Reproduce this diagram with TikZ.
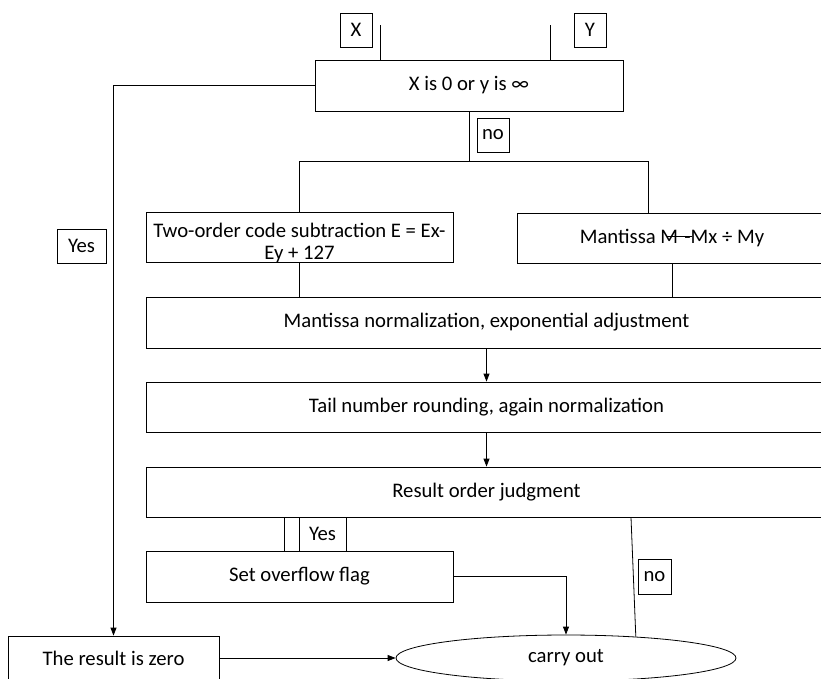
\documentclass[tikz,border=0pt]{standalone}
\usepackage{fontspec}
\setmainfont{Carlito}
\usetikzlibrary{shapes,arrows.meta}

\begin{document}
\begin{tikzpicture}[x=1pt,y=-1pt,line width=0.8pt]
	 	\tikzstyle{every node}+=[inner sep=0pt,font=\fontsize{20.7}{21.5}\selectfont]
	 	\tikzstyle{box}=[draw,rectangle,align=center]
	 	\tikzstyle{tag}=[draw,rectangle,minimum width=32,minimum height=34]
	 	\tikzstyle{arrow}=[-{Triangle[length=8pt,width=6pt]}]
	 	\useasboundingbox (0,0) rectangle (821,678);
	 	\node [tag] (inX) at (356,30) {X};
	 	\node [tag] (inY) at (590,30) {Y};
	 	\node [box,minimum width=308,minimum height=51] (test) at (469,85.5) {X is 0 or y is ∞};
	 	\node [tag] (noA) at (493,135) {no};
	 	\node [tag,minimum width=49] (yesA) at (81.5,246) {Yes};
	 	\node [box,minimum width=307,minimum height=49] (expo) at (299.5,237.5) {\rule{0pt}{25pt}Two-order code subtraction E = Ex-\\Ey + 127};
	 	\node [box,minimum width=310,minimum height=50] (mant) at (672,238) {Mantissa \makebox[0pt][l]{\hspace{0.3em}\rule[0.3em]{1.2em}{0.05em}}M\hspace{0.3em}-Mx ÷ My};
	 	\node [box,minimum width=681,minimum height=51] (norm) at (486.5,322.5) {Mantissa normalization, exponential adjustment};
	 	\node [box,minimum width=681,minimum height=50] (round) at (486.5,407) {Tail number rounding, again normalization};
	 	\node [box,minimum width=681,minimum height=50] (judge) at (486.5,492) {Result order judgment};
	 	\node [tag,minimum width=47] (yesB) at (322.5,534) {Yes};
	 	\node [box,minimum width=307,minimum height=51] (flag) at (299.5,576.5) {Set overflow flag};
	 	\node [tag,minimum width=33,minimum height=35] (noB) at (654.5,576.5) {no};
	 	\node [box,minimum width=211,minimum height=44] (zero) at (113.5,658) {The result is zero};
	 	\node [draw,ellipse,minimum width=340,minimum height=46] (carry) at (566,658) {carry out};
	 	\coordinate (xin) at (380,25);
	 	\coordinate (yin) at (550,25);
	 	\coordinate (forkL) at (300,161);
	 	\coordinate (forkR) at (648,161);
	 	\coordinate (yesx) at (284,0);
	 	\coordinate (nox) at (631,0);
	 	\draw (xin) -- (xin |- test.north);
	 	\draw (yin) -- (yin |- test.north);
	 	\draw [arrow] (test.west) -| (zero.north);
	 	\draw (test.south) -- (test.south |- forkL);
	 	\draw (expo.north) -- (expo.north |- forkL) -- (forkR) -- (forkR |- mant.north);
	 	\draw (expo.south) -- (expo.south |- norm.north);
	 	\draw (mant.south) -- (mant.south |- norm.north);
	 	\draw [arrow] (norm.south) -- (round.north);
	 	\draw [arrow] (round.south) -- (judge.north);
	 	\draw (judge.south -| yesx) -- (flag.north -| yesx);
	 	\draw [arrow] (flag.east) -| (carry.north);
	 	\draw (judge.south -| nox) -- (carry.17);
	 	\draw [arrow] (zero.east) -- (carry.west);
\end{tikzpicture}
\end{document}
